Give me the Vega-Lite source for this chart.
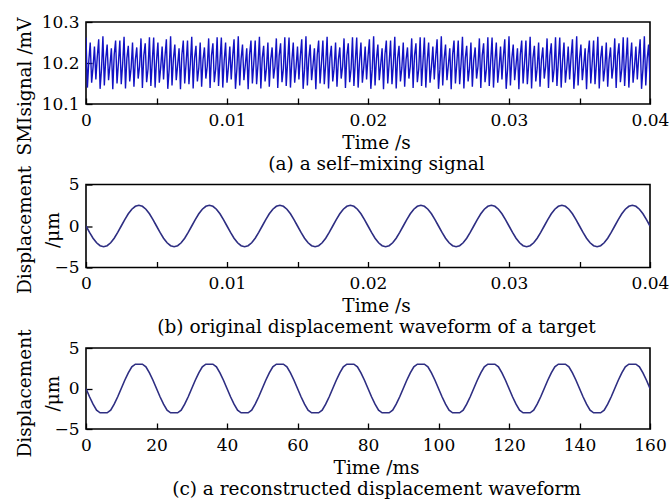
{
  "$schema": "https://vega.github.io/schema/vega-lite/v6.json",
  "background": "white",
  "padding": {"left": 14, "top": 12, "right": 5, "bottom": 5},
  "bounds": "flush",
  "spacing": 80.5,
  "config": {
    "font": "DejaVu Serif",
    "view": {"stroke": "black", "strokeWidth": 1.6},
    "axis": {
      "labelFont": "DejaVu Serif", "titleFont": "DejaVu Serif",
      "labelFontSize": 17, "titleFontSize": 18.5,
      "labelColor": "black", "titleColor": "black", "titleFontWeight": "normal",
      "domain": false, "grid": false, "tickColor": "black", "tickWidth": 1.3,
      "labelFlush": false, "labelOverlap": false
    }
  },
  "datasets": {
    "smi": [
      {"t":0,"v":10.262},{"t":0.0001,"v":10.14},{"t":0.0002,"v":10.205},{"t":0.0003,"v":10.25},{"t":0.0004,"v":10.152},{"t":0.0005,"v":10.19},{"t":0.0006,"v":10.24},{"t":0.0007,"v":10.16},{"t":0.0008,"v":10.215},{"t":0.0009,"v":10.258},{"t":0.001,"v":10.137},{"t":0.0011,"v":10.185},{"t":0.0012,"v":10.265},{"t":0.0013,"v":10.145},{"t":0.0014,"v":10.21},{"t":0.0015,"v":10.245},{"t":0.0016,"v":10.158},{"t":0.0017,"v":10.195},{"t":0.0018,"v":10.236},{"t":0.0019,"v":10.136},{"t":0.002,"v":10.22},{"t":0.0021,"v":10.255},{"t":0.0022,"v":10.15},{"t":0.0023,"v":10.2},
      {"t":0.0024,"v":10.255},{"t":0.0025,"v":10.148},{"t":0.0026,"v":10.198},{"t":0.0027,"v":10.264},{"t":0.0028,"v":10.138},{"t":0.0029,"v":10.212},{"t":0.003,"v":10.242},{"t":0.0031,"v":10.155},{"t":0.0032,"v":10.188},{"t":0.0033,"v":10.25},{"t":0.0034,"v":10.142},{"t":0.0035,"v":10.208},{"t":0.0036,"v":10.238},{"t":0.0037,"v":10.162},{"t":0.0038,"v":10.192},{"t":0.0039,"v":10.26},{"t":0.004,"v":10.139},{"t":0.0041,"v":10.218},{"t":0.0042,"v":10.248},{"t":0.0043,"v":10.153},{"t":0.0044,"v":10.186},{"t":0.0045,"v":10.263},{"t":0.0046,"v":10.144},{"t":0.0047,"v":10.204},
      {"t":0.0048,"v":10.262},{"t":0.0049,"v":10.14},{"t":0.005,"v":10.205},{"t":0.0051,"v":10.25},{"t":0.0052,"v":10.152},{"t":0.0053,"v":10.19},{"t":0.0054,"v":10.24},{"t":0.0055,"v":10.16},{"t":0.0056,"v":10.215},{"t":0.0057,"v":10.258},{"t":0.0058,"v":10.137},{"t":0.0059,"v":10.185},{"t":0.006,"v":10.265},{"t":0.0061,"v":10.145},{"t":0.0062,"v":10.21},{"t":0.0063,"v":10.245},{"t":0.0064,"v":10.158},{"t":0.0065,"v":10.195},{"t":0.0066,"v":10.236},{"t":0.0067,"v":10.136},{"t":0.0068,"v":10.22},{"t":0.0069,"v":10.255},{"t":0.007,"v":10.15},{"t":0.0071,"v":10.2},
      {"t":0.0072,"v":10.255},{"t":0.0073,"v":10.148},{"t":0.0074,"v":10.198},{"t":0.0075,"v":10.264},{"t":0.0076,"v":10.138},{"t":0.0077,"v":10.212},{"t":0.0078,"v":10.242},{"t":0.0079,"v":10.155},{"t":0.008,"v":10.188},{"t":0.0081,"v":10.25},{"t":0.0082,"v":10.142},{"t":0.0083,"v":10.208},{"t":0.0084,"v":10.238},{"t":0.0085,"v":10.162},{"t":0.0086,"v":10.192},{"t":0.0087,"v":10.26},{"t":0.0088,"v":10.139},{"t":0.0089,"v":10.218},{"t":0.009,"v":10.248},{"t":0.0091,"v":10.153},{"t":0.0092,"v":10.186},{"t":0.0093,"v":10.263},{"t":0.0094,"v":10.144},{"t":0.0095,"v":10.204},
      {"t":0.0096,"v":10.262},{"t":0.0097,"v":10.14},{"t":0.0098,"v":10.205},{"t":0.0099,"v":10.25},{"t":0.01,"v":10.152},{"t":0.0101,"v":10.19},{"t":0.0102,"v":10.24},{"t":0.0103,"v":10.16},{"t":0.0104,"v":10.215},{"t":0.0105,"v":10.258},{"t":0.0106,"v":10.137},{"t":0.0107,"v":10.185},{"t":0.0108,"v":10.265},{"t":0.0109,"v":10.145},{"t":0.011,"v":10.21},{"t":0.0111,"v":10.245},{"t":0.0112,"v":10.158},{"t":0.0113,"v":10.195},{"t":0.0114,"v":10.236},{"t":0.0115,"v":10.136},{"t":0.0116,"v":10.22},{"t":0.0117,"v":10.255},{"t":0.0118,"v":10.15},{"t":0.0119,"v":10.2},
      {"t":0.012,"v":10.255},{"t":0.0121,"v":10.148},{"t":0.0122,"v":10.198},{"t":0.0123,"v":10.264},{"t":0.0124,"v":10.138},{"t":0.0125,"v":10.212},{"t":0.0126,"v":10.242},{"t":0.0127,"v":10.155},{"t":0.0128,"v":10.188},{"t":0.0129,"v":10.25},{"t":0.013,"v":10.142},{"t":0.0131,"v":10.208},{"t":0.0132,"v":10.238},{"t":0.0133,"v":10.162},{"t":0.0134,"v":10.192},{"t":0.0135,"v":10.26},{"t":0.0136,"v":10.139},{"t":0.0137,"v":10.218},{"t":0.0138,"v":10.248},{"t":0.0139,"v":10.153},{"t":0.014,"v":10.186},{"t":0.0141,"v":10.263},{"t":0.0142,"v":10.144},{"t":0.0143,"v":10.204},
      {"t":0.0144,"v":10.262},{"t":0.0145,"v":10.14},{"t":0.0146,"v":10.205},{"t":0.0147,"v":10.25},{"t":0.0148,"v":10.152},{"t":0.0149,"v":10.19},{"t":0.015,"v":10.24},{"t":0.0151,"v":10.16},{"t":0.0152,"v":10.215},{"t":0.0153,"v":10.258},{"t":0.0154,"v":10.137},{"t":0.0155,"v":10.185},{"t":0.0156,"v":10.265},{"t":0.0157,"v":10.145},{"t":0.0158,"v":10.21},{"t":0.0159,"v":10.245},{"t":0.016,"v":10.158},{"t":0.0161,"v":10.195},{"t":0.0162,"v":10.236},{"t":0.0163,"v":10.136},{"t":0.0164,"v":10.22},{"t":0.0165,"v":10.255},{"t":0.0166,"v":10.15},{"t":0.0167,"v":10.2},
      {"t":0.0168,"v":10.255},{"t":0.0169,"v":10.148},{"t":0.017,"v":10.198},{"t":0.0171,"v":10.264},{"t":0.0172,"v":10.138},{"t":0.0173,"v":10.212},{"t":0.0174,"v":10.242},{"t":0.0175,"v":10.155},{"t":0.0176,"v":10.188},{"t":0.0177,"v":10.25},{"t":0.0178,"v":10.142},{"t":0.0179,"v":10.208},{"t":0.018,"v":10.238},{"t":0.0181,"v":10.162},{"t":0.0182,"v":10.192},{"t":0.0183,"v":10.26},{"t":0.0184,"v":10.139},{"t":0.0185,"v":10.218},{"t":0.0186,"v":10.248},{"t":0.0187,"v":10.153},{"t":0.0188,"v":10.186},{"t":0.0189,"v":10.263},{"t":0.019,"v":10.144},{"t":0.0191,"v":10.204},
      {"t":0.0192,"v":10.262},{"t":0.0193,"v":10.14},{"t":0.0194,"v":10.205},{"t":0.0195,"v":10.25},{"t":0.0196,"v":10.152},{"t":0.0197,"v":10.19},{"t":0.0198,"v":10.24},{"t":0.0199,"v":10.16},{"t":0.02,"v":10.215},{"t":0.0201,"v":10.258},{"t":0.0202,"v":10.137},{"t":0.0203,"v":10.185},{"t":0.0204,"v":10.265},{"t":0.0205,"v":10.145},{"t":0.0206,"v":10.21},{"t":0.0207,"v":10.245},{"t":0.0208,"v":10.158},{"t":0.0209,"v":10.195},{"t":0.021,"v":10.236},{"t":0.0211,"v":10.136},{"t":0.0212,"v":10.22},{"t":0.0213,"v":10.255},{"t":0.0214,"v":10.15},{"t":0.0215,"v":10.2},
      {"t":0.0216,"v":10.255},{"t":0.0217,"v":10.148},{"t":0.0218,"v":10.198},{"t":0.0219,"v":10.264},{"t":0.022,"v":10.138},{"t":0.0221,"v":10.212},{"t":0.0222,"v":10.242},{"t":0.0223,"v":10.155},{"t":0.0224,"v":10.188},{"t":0.0225,"v":10.25},{"t":0.0226,"v":10.142},{"t":0.0227,"v":10.208},{"t":0.0228,"v":10.238},{"t":0.0229,"v":10.162},{"t":0.023,"v":10.192},{"t":0.0231,"v":10.26},{"t":0.0232,"v":10.139},{"t":0.0233,"v":10.218},{"t":0.0234,"v":10.248},{"t":0.0235,"v":10.153},{"t":0.0236,"v":10.186},{"t":0.0237,"v":10.263},{"t":0.0238,"v":10.144},{"t":0.0239,"v":10.204},
      {"t":0.024,"v":10.262},{"t":0.0241,"v":10.14},{"t":0.0242,"v":10.205},{"t":0.0243,"v":10.25},{"t":0.0244,"v":10.152},{"t":0.0245,"v":10.19},{"t":0.0246,"v":10.24},{"t":0.0247,"v":10.16},{"t":0.0248,"v":10.215},{"t":0.0249,"v":10.258},{"t":0.025,"v":10.137},{"t":0.0251,"v":10.185},{"t":0.0252,"v":10.265},{"t":0.0253,"v":10.145},{"t":0.0254,"v":10.21},{"t":0.0255,"v":10.245},{"t":0.0256,"v":10.158},{"t":0.0257,"v":10.195},{"t":0.0258,"v":10.236},{"t":0.0259,"v":10.136},{"t":0.026,"v":10.22},{"t":0.0261,"v":10.255},{"t":0.0262,"v":10.15},{"t":0.0263,"v":10.2},
      {"t":0.0264,"v":10.255},{"t":0.0265,"v":10.148},{"t":0.0266,"v":10.198},{"t":0.0267,"v":10.264},{"t":0.0268,"v":10.138},{"t":0.0269,"v":10.212},{"t":0.027,"v":10.242},{"t":0.0271,"v":10.155},{"t":0.0272,"v":10.188},{"t":0.0273,"v":10.25},{"t":0.0274,"v":10.142},{"t":0.0275,"v":10.208},{"t":0.0276,"v":10.238},{"t":0.0277,"v":10.162},{"t":0.0278,"v":10.192},{"t":0.0279,"v":10.26},{"t":0.028,"v":10.139},{"t":0.0281,"v":10.218},{"t":0.0282,"v":10.248},{"t":0.0283,"v":10.153},{"t":0.0284,"v":10.186},{"t":0.0285,"v":10.263},{"t":0.0286,"v":10.144},{"t":0.0287,"v":10.204},
      {"t":0.0288,"v":10.262},{"t":0.0289,"v":10.14},{"t":0.029,"v":10.205},{"t":0.0291,"v":10.25},{"t":0.0292,"v":10.152},{"t":0.0293,"v":10.19},{"t":0.0294,"v":10.24},{"t":0.0295,"v":10.16},{"t":0.0296,"v":10.215},{"t":0.0297,"v":10.258},{"t":0.0298,"v":10.137},{"t":0.0299,"v":10.185},{"t":0.03,"v":10.265},{"t":0.0301,"v":10.145},{"t":0.0302,"v":10.21},{"t":0.0303,"v":10.245},{"t":0.0304,"v":10.158},{"t":0.0305,"v":10.195},{"t":0.0306,"v":10.236},{"t":0.0307,"v":10.136},{"t":0.0308,"v":10.22},{"t":0.0309,"v":10.255},{"t":0.031,"v":10.15},{"t":0.0311,"v":10.2},
      {"t":0.0312,"v":10.255},{"t":0.0313,"v":10.148},{"t":0.0314,"v":10.198},{"t":0.0315,"v":10.264},{"t":0.0316,"v":10.138},{"t":0.0317,"v":10.212},{"t":0.0318,"v":10.242},{"t":0.0319,"v":10.155},{"t":0.032,"v":10.188},{"t":0.0321,"v":10.25},{"t":0.0322,"v":10.142},{"t":0.0323,"v":10.208},{"t":0.0324,"v":10.238},{"t":0.0325,"v":10.162},{"t":0.0326,"v":10.192},{"t":0.0327,"v":10.26},{"t":0.0328,"v":10.139},{"t":0.0329,"v":10.218},{"t":0.033,"v":10.248},{"t":0.0331,"v":10.153},{"t":0.0332,"v":10.186},{"t":0.0333,"v":10.263},{"t":0.0334,"v":10.144},{"t":0.0335,"v":10.204},
      {"t":0.0336,"v":10.262},{"t":0.0337,"v":10.14},{"t":0.0338,"v":10.205},{"t":0.0339,"v":10.25},{"t":0.034,"v":10.152},{"t":0.0341,"v":10.19},{"t":0.0342,"v":10.24},{"t":0.0343,"v":10.16},{"t":0.0344,"v":10.215},{"t":0.0345,"v":10.258},{"t":0.0346,"v":10.137},{"t":0.0347,"v":10.185},{"t":0.0348,"v":10.265},{"t":0.0349,"v":10.145},{"t":0.035,"v":10.21},{"t":0.0351,"v":10.245},{"t":0.0352,"v":10.158},{"t":0.0353,"v":10.195},{"t":0.0354,"v":10.236},{"t":0.0355,"v":10.136},{"t":0.0356,"v":10.22},{"t":0.0357,"v":10.255},{"t":0.0358,"v":10.15},{"t":0.0359,"v":10.2},
      {"t":0.036,"v":10.255},{"t":0.0361,"v":10.148},{"t":0.0362,"v":10.198},{"t":0.0363,"v":10.264},{"t":0.0364,"v":10.138},{"t":0.0365,"v":10.212},{"t":0.0366,"v":10.242},{"t":0.0367,"v":10.155},{"t":0.0368,"v":10.188},{"t":0.0369,"v":10.25},{"t":0.037,"v":10.142},{"t":0.0371,"v":10.208},{"t":0.0372,"v":10.238},{"t":0.0373,"v":10.162},{"t":0.0374,"v":10.192},{"t":0.0375,"v":10.26},{"t":0.0376,"v":10.139},{"t":0.0377,"v":10.218},{"t":0.0378,"v":10.248},{"t":0.0379,"v":10.153},{"t":0.038,"v":10.186},{"t":0.0381,"v":10.263},{"t":0.0382,"v":10.144},{"t":0.0383,"v":10.204},
      {"t":0.0384,"v":10.262},{"t":0.0385,"v":10.14},{"t":0.0386,"v":10.205},{"t":0.0387,"v":10.25},{"t":0.0388,"v":10.152},{"t":0.0389,"v":10.19},{"t":0.039,"v":10.24},{"t":0.0391,"v":10.16},{"t":0.0392,"v":10.215},{"t":0.0393,"v":10.258},{"t":0.0394,"v":10.137},{"t":0.0395,"v":10.185},{"t":0.0396,"v":10.265},{"t":0.0397,"v":10.145},{"t":0.0398,"v":10.21},{"t":0.0399,"v":10.245},{"t":0.04,"v":10.158}
    ],
    "orig": [
      {"t":0,"d":0},{"t":0.00025,"d":-0.773},{"t":0.0005,"d":-1.469},{"t":0.00075,"d":-2.023},{"t":0.001,"d":-2.378},{"t":0.00125,"d":-2.5},{"t":0.0015,"d":-2.378},{"t":0.00175,"d":-2.023},{"t":0.002,"d":-1.469},{"t":0.00225,"d":-0.773},{"t":0.0025,"d":0},{"t":0.00275,"d":0.773},{"t":0.003,"d":1.469},{"t":0.00325,"d":2.023},{"t":0.0035,"d":2.378},{"t":0.00375,"d":2.5},{"t":0.004,"d":2.378},{"t":0.00425,"d":2.023},{"t":0.0045,"d":1.469},{"t":0.00475,"d":0.773},
      {"t":0.005,"d":0},{"t":0.00525,"d":-0.773},{"t":0.0055,"d":-1.469},{"t":0.00575,"d":-2.023},{"t":0.006,"d":-2.378},{"t":0.00625,"d":-2.5},{"t":0.0065,"d":-2.378},{"t":0.00675,"d":-2.023},{"t":0.007,"d":-1.469},{"t":0.00725,"d":-0.773},{"t":0.0075,"d":0},{"t":0.00775,"d":0.773},{"t":0.008,"d":1.469},{"t":0.00825,"d":2.023},{"t":0.0085,"d":2.378},{"t":0.00875,"d":2.5},{"t":0.009,"d":2.378},{"t":0.00925,"d":2.023},{"t":0.0095,"d":1.469},{"t":0.00975,"d":0.773},
      {"t":0.01,"d":0},{"t":0.01025,"d":-0.773},{"t":0.0105,"d":-1.469},{"t":0.01075,"d":-2.023},{"t":0.011,"d":-2.378},{"t":0.01125,"d":-2.5},{"t":0.0115,"d":-2.378},{"t":0.01175,"d":-2.023},{"t":0.012,"d":-1.469},{"t":0.01225,"d":-0.773},{"t":0.0125,"d":0},{"t":0.01275,"d":0.773},{"t":0.013,"d":1.469},{"t":0.01325,"d":2.023},{"t":0.0135,"d":2.378},{"t":0.01375,"d":2.5},{"t":0.014,"d":2.378},{"t":0.01425,"d":2.023},{"t":0.0145,"d":1.469},{"t":0.01475,"d":0.773},
      {"t":0.015,"d":0},{"t":0.01525,"d":-0.773},{"t":0.0155,"d":-1.469},{"t":0.01575,"d":-2.023},{"t":0.016,"d":-2.378},{"t":0.01625,"d":-2.5},{"t":0.0165,"d":-2.378},{"t":0.01675,"d":-2.023},{"t":0.017,"d":-1.469},{"t":0.01725,"d":-0.773},{"t":0.0175,"d":0},{"t":0.01775,"d":0.773},{"t":0.018,"d":1.469},{"t":0.01825,"d":2.023},{"t":0.0185,"d":2.378},{"t":0.01875,"d":2.5},{"t":0.019,"d":2.378},{"t":0.01925,"d":2.023},{"t":0.0195,"d":1.469},{"t":0.01975,"d":0.773},
      {"t":0.02,"d":0},{"t":0.02025,"d":-0.773},{"t":0.0205,"d":-1.469},{"t":0.02075,"d":-2.023},{"t":0.021,"d":-2.378},{"t":0.02125,"d":-2.5},{"t":0.0215,"d":-2.378},{"t":0.02175,"d":-2.023},{"t":0.022,"d":-1.469},{"t":0.02225,"d":-0.773},{"t":0.0225,"d":0},{"t":0.02275,"d":0.773},{"t":0.023,"d":1.469},{"t":0.02325,"d":2.023},{"t":0.0235,"d":2.378},{"t":0.02375,"d":2.5},{"t":0.024,"d":2.378},{"t":0.02425,"d":2.023},{"t":0.0245,"d":1.469},{"t":0.02475,"d":0.773},
      {"t":0.025,"d":0},{"t":0.02525,"d":-0.773},{"t":0.0255,"d":-1.469},{"t":0.02575,"d":-2.023},{"t":0.026,"d":-2.378},{"t":0.02625,"d":-2.5},{"t":0.0265,"d":-2.378},{"t":0.02675,"d":-2.023},{"t":0.027,"d":-1.469},{"t":0.02725,"d":-0.773},{"t":0.0275,"d":0},{"t":0.02775,"d":0.773},{"t":0.028,"d":1.469},{"t":0.02825,"d":2.023},{"t":0.0285,"d":2.378},{"t":0.02875,"d":2.5},{"t":0.029,"d":2.378},{"t":0.02925,"d":2.023},{"t":0.0295,"d":1.469},{"t":0.02975,"d":0.773},
      {"t":0.03,"d":0},{"t":0.03025,"d":-0.773},{"t":0.0305,"d":-1.469},{"t":0.03075,"d":-2.023},{"t":0.031,"d":-2.378},{"t":0.03125,"d":-2.5},{"t":0.0315,"d":-2.378},{"t":0.03175,"d":-2.023},{"t":0.032,"d":-1.469},{"t":0.03225,"d":-0.773},{"t":0.0325,"d":0},{"t":0.03275,"d":0.773},{"t":0.033,"d":1.469},{"t":0.03325,"d":2.023},{"t":0.0335,"d":2.378},{"t":0.03375,"d":2.5},{"t":0.034,"d":2.378},{"t":0.03425,"d":2.023},{"t":0.0345,"d":1.469},{"t":0.03475,"d":0.773},
      {"t":0.035,"d":0},{"t":0.03525,"d":-0.773},{"t":0.0355,"d":-1.469},{"t":0.03575,"d":-2.023},{"t":0.036,"d":-2.378},{"t":0.03625,"d":-2.5},{"t":0.0365,"d":-2.378},{"t":0.03675,"d":-2.023},{"t":0.037,"d":-1.469},{"t":0.03725,"d":-0.773},{"t":0.0375,"d":0},{"t":0.03775,"d":0.773},{"t":0.038,"d":1.469},{"t":0.03825,"d":2.023},{"t":0.0385,"d":2.378},{"t":0.03875,"d":2.5},{"t":0.039,"d":2.378},{"t":0.03925,"d":2.023},{"t":0.0395,"d":1.469},{"t":0.03975,"d":0.773},
      {"t":0.04,"d":0}
    ],
    "recon": [
      {"t":0,"d":0},{"t":1,"d":-1.02},{"t":2,"d":-1.94},{"t":3,"d":-2.67},{"t":4,"d":-3},{"t":5,"d":-3},{"t":6,"d":-3},{"t":7,"d":-2.67},{"t":8,"d":-1.94},{"t":9,"d":-1.02},{"t":10,"d":0},{"t":11,"d":1.02},{"t":12,"d":1.94},{"t":13,"d":2.67},{"t":14,"d":3},{"t":15,"d":3},{"t":16,"d":3},{"t":17,"d":2.67},{"t":18,"d":1.94},{"t":19,"d":1.02},
      {"t":20,"d":0},{"t":21,"d":-1.02},{"t":22,"d":-1.94},{"t":23,"d":-2.67},{"t":24,"d":-3},{"t":25,"d":-3},{"t":26,"d":-3},{"t":27,"d":-2.67},{"t":28,"d":-1.94},{"t":29,"d":-1.02},{"t":30,"d":0},{"t":31,"d":1.02},{"t":32,"d":1.94},{"t":33,"d":2.67},{"t":34,"d":3},{"t":35,"d":3},{"t":36,"d":3},{"t":37,"d":2.67},{"t":38,"d":1.94},{"t":39,"d":1.02},
      {"t":40,"d":0},{"t":41,"d":-1.02},{"t":42,"d":-1.94},{"t":43,"d":-2.67},{"t":44,"d":-3},{"t":45,"d":-3},{"t":46,"d":-3},{"t":47,"d":-2.67},{"t":48,"d":-1.94},{"t":49,"d":-1.02},{"t":50,"d":0},{"t":51,"d":1.02},{"t":52,"d":1.94},{"t":53,"d":2.67},{"t":54,"d":3},{"t":55,"d":3},{"t":56,"d":3},{"t":57,"d":2.67},{"t":58,"d":1.94},{"t":59,"d":1.02},
      {"t":60,"d":0},{"t":61,"d":-1.02},{"t":62,"d":-1.94},{"t":63,"d":-2.67},{"t":64,"d":-3},{"t":65,"d":-3},{"t":66,"d":-3},{"t":67,"d":-2.67},{"t":68,"d":-1.94},{"t":69,"d":-1.02},{"t":70,"d":0},{"t":71,"d":1.02},{"t":72,"d":1.94},{"t":73,"d":2.67},{"t":74,"d":3},{"t":75,"d":3},{"t":76,"d":3},{"t":77,"d":2.67},{"t":78,"d":1.94},{"t":79,"d":1.02},
      {"t":80,"d":0},{"t":81,"d":-1.02},{"t":82,"d":-1.94},{"t":83,"d":-2.67},{"t":84,"d":-3},{"t":85,"d":-3},{"t":86,"d":-3},{"t":87,"d":-2.67},{"t":88,"d":-1.94},{"t":89,"d":-1.02},{"t":90,"d":0},{"t":91,"d":1.02},{"t":92,"d":1.94},{"t":93,"d":2.67},{"t":94,"d":3},{"t":95,"d":3},{"t":96,"d":3},{"t":97,"d":2.67},{"t":98,"d":1.94},{"t":99,"d":1.02},
      {"t":100,"d":0},{"t":101,"d":-1.02},{"t":102,"d":-1.94},{"t":103,"d":-2.67},{"t":104,"d":-3},{"t":105,"d":-3},{"t":106,"d":-3},{"t":107,"d":-2.67},{"t":108,"d":-1.94},{"t":109,"d":-1.02},{"t":110,"d":0},{"t":111,"d":1.02},{"t":112,"d":1.94},{"t":113,"d":2.67},{"t":114,"d":3},{"t":115,"d":3},{"t":116,"d":3},{"t":117,"d":2.67},{"t":118,"d":1.94},{"t":119,"d":1.02},
      {"t":120,"d":0},{"t":121,"d":-1.02},{"t":122,"d":-1.94},{"t":123,"d":-2.67},{"t":124,"d":-3},{"t":125,"d":-3},{"t":126,"d":-3},{"t":127,"d":-2.67},{"t":128,"d":-1.94},{"t":129,"d":-1.02},{"t":130,"d":0},{"t":131,"d":1.02},{"t":132,"d":1.94},{"t":133,"d":2.67},{"t":134,"d":3},{"t":135,"d":3},{"t":136,"d":3},{"t":137,"d":2.67},{"t":138,"d":1.94},{"t":139,"d":1.02},
      {"t":140,"d":0},{"t":141,"d":-1.02},{"t":142,"d":-1.94},{"t":143,"d":-2.67},{"t":144,"d":-3},{"t":145,"d":-3},{"t":146,"d":-3},{"t":147,"d":-2.67},{"t":148,"d":-1.94},{"t":149,"d":-1.02},{"t":150,"d":0},{"t":151,"d":1.02},{"t":152,"d":1.94},{"t":153,"d":2.67},{"t":154,"d":3},{"t":155,"d":3},{"t":156,"d":3},{"t":157,"d":2.67},{"t":158,"d":1.94},{"t":159,"d":1.02},
      {"t":160,"d":0}
    ]
  },
  "vconcat": [
    {
      "width": 564, "height": 82,
      "data": {"name": "smi"},
      "mark": {"type": "line", "color": "#1212c4", "strokeWidth": 1.4, "clip": true},
      "encoding": {
        "x": {"field": "t", "type": "quantitative",
          "scale": {"domain": [0, 0.04], "nice": false, "zero": false},
          "axis": {"values": [0, 0.005, 0.01, 0.015, 0.02, 0.025, 0.03, 0.035, 0.04], "format": "~g",
            "labelExpr": "round(datum.value*1000) % 10 == 0 ? datum.label : ''",
            "tickSize": -6, "labelPadding": 27, "labelBaseline": "alphabetic",
            "title": ["Time /s", "(a) a self–mixing signal"], "titleLineHeight": 21,
            "titleX": 290, "titleY": 44, "titleBaseline": "alphabetic", "titleAlign": "center"}},
        "y": {"field": "v", "type": "quantitative",
          "scale": {"domain": [10.1, 10.3], "nice": false, "zero": false},
          "axis": {"values": [10.1, 10.2, 10.3], "format": ".1f", "tickSize": -6, "labelPadding": 13,
            "title": "SMIsignal /mV", "titleX": -56, "titleY": 64, "titleBaseline": "alphabetic", "titleAlign": "center", "titleAngle": 270}}
      }
    },
    {
      "width": 564, "height": 83,
      "data": {"name": "orig"},
      "mark": {"type": "line", "color": "#2e2e82", "strokeWidth": 1.6, "clip": true},
      "encoding": {
        "x": {"field": "t", "type": "quantitative",
          "scale": {"domain": [0, 0.04], "nice": false, "zero": false},
          "axis": {"values": [0, 0.005, 0.01, 0.015, 0.02, 0.025, 0.03, 0.035, 0.04], "format": "~g",
            "labelExpr": "round(datum.value*1000) % 10 == 0 ? datum.label : ''",
            "tickSize": -6, "labelPadding": 27, "labelBaseline": "alphabetic",
            "title": ["Time /s", "(b) original displacement waveform of a target"], "titleLineHeight": 21,
            "titleX": 290, "titleY": 44, "titleBaseline": "alphabetic", "titleAlign": "center"}},
        "y": {"field": "d", "type": "quantitative",
          "scale": {"domain": [-5, 5], "nice": false, "zero": false},
          "axis": {"values": [-5, 0, 5], "format": "d", "tickSize": -6, "labelPadding": 13,
            "title": ["Displacement", "/μm"], "titleLineHeight": 28, "titleX": -56, "titleY": 45, "titleBaseline": "alphabetic", "titleAlign": "center", "titleAngle": 270}}
      }
    },
    {
      "width": 564, "height": 81,
      "data": {"name": "recon"},
      "mark": {"type": "line", "color": "#2e2e82", "strokeWidth": 1.6, "clip": true},
      "encoding": {
        "x": {"field": "t", "type": "quantitative",
          "scale": {"domain": [0, 160], "nice": false, "zero": false},
          "axis": {"values": [0, 20, 40, 60, 80, 100, 120, 140, 160], "format": "d",
            "tickSize": -6, "labelPadding": 27, "labelBaseline": "alphabetic",
            "title": ["Time /ms", "(c) a reconstructed displacement waveform"], "titleLineHeight": 21,
            "titleX": 290, "titleY": 44, "titleBaseline": "alphabetic", "titleAlign": "center"}},
        "y": {"field": "d", "type": "quantitative",
          "scale": {"domain": [-5, 5], "nice": false, "zero": false},
          "axis": {"values": [-5, 0, 5], "format": "d", "tickSize": -6, "labelPadding": 13,
            "title": ["Displacement", "/μm"], "titleLineHeight": 28, "titleX": -56, "titleY": 45, "titleBaseline": "alphabetic", "titleAlign": "center", "titleAngle": 270}}
      }
    }
  ]
}
